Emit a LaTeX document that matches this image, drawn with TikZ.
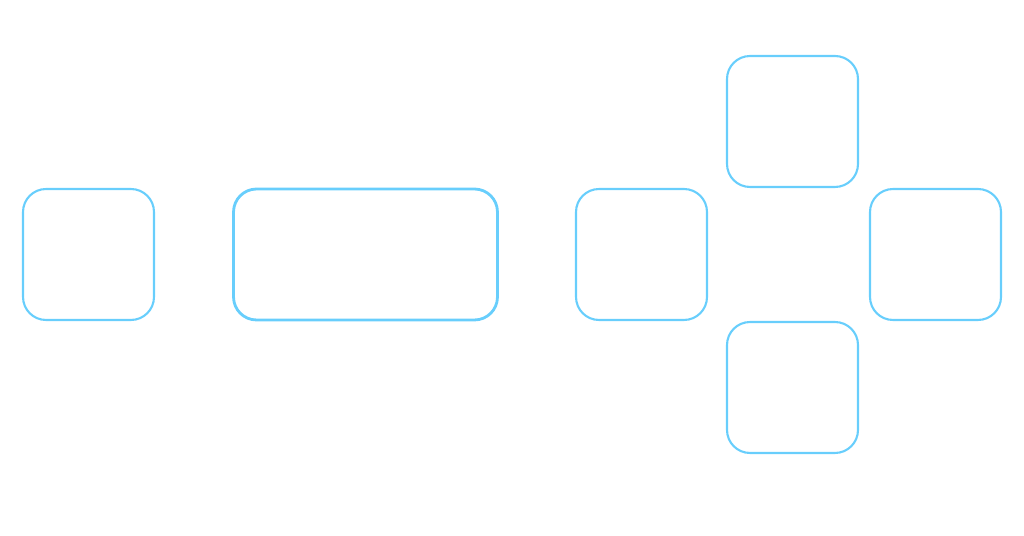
\documentclass[tikz,border=0pt]{standalone}
\usepackage{tikz}

\definecolor{skyline}{RGB}{104,206,252}

\begin{document}
\begin{tikzpicture}[
  x=0.02cm,y=-0.02cm,
  box/.style={rectangle,draw=skyline,line width=1.2pt,rounded corners=0.46cm,inner sep=0pt,minimum width=2.62cm,minimum height=2.62cm},
  widebox/.style={box,line width=1.6pt,minimum width=5.28cm},
]
\useasboundingbox (0,0) rectangle (1024,536);

% === LEFT ROW ===
\node[box] (src) at (88.5,254.5) {};
\node[widebox] (stage) at (365.5,254.5) {};

% === CROSS ===
\node[box] (hub) at (641.5,254.5) {};
\node[box] (north) at (792.5,121.5) {};
\node[box] (east) at (935.5,254.5) {};
\node[box] (south) at (792.5,387.5) {};

\end{tikzpicture}
\end{document}
